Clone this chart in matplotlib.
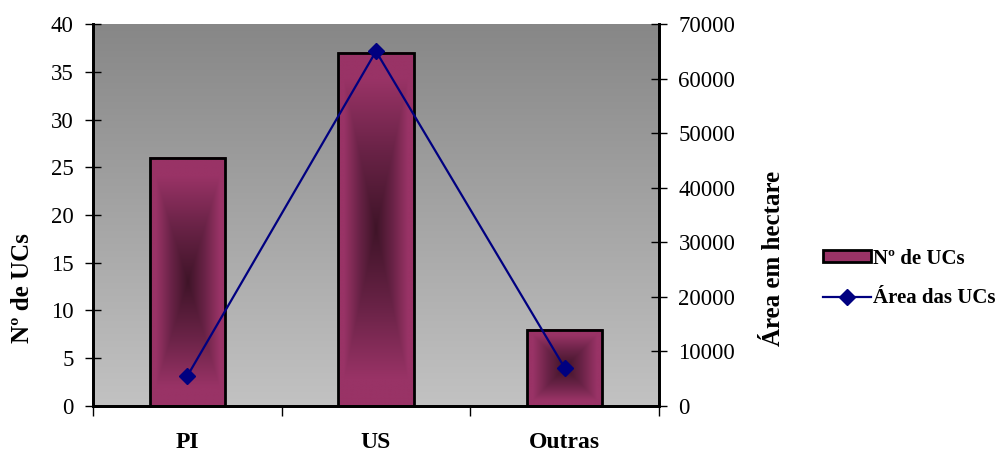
import numpy as np
import matplotlib
matplotlib.use("Agg")
from matplotlib import pyplot as plt
from matplotlib.patches import Rectangle
from matplotlib.lines import Line2D

plt.rcParams['font.family'] = ['Liberation Serif', 'DejaVu Serif']

# dados
categorias = ['PI', 'US', 'Outras']
num_ucs = [26, 37, 8]
area_ucs = [5500, 65000, 7000]

fig = plt.figure(figsize=(9.96, 4.53), dpi=100)
ax = fig.add_axes([0.0934, 0.1038, 0.5682, 0.8432])
ax2 = ax.twinx()

x = np.arange(len(categorias))
larg = 0.4

# fundo em degrade cinza
fundo = np.linspace(0, 1, 256).reshape(-1, 1)
cmap_fundo = matplotlib.colors.LinearSegmentedColormap.from_list('f', ['#c2c2c2', '#878787'])
ax.imshow(fundo, extent=(-0.5, 2.5, 0, 40), origin='lower', aspect='auto', cmap=cmap_fundo, zorder=0)

# barras com degrade a partir do centro
cmap_barra = matplotlib.colors.LinearSegmentedColormap.from_list(
    'b', [(0, '#3f1428'), (0.45, '#6a2347'), (0.85, '#993366'), (1, '#993366')])
nx, ny = 80, 300
gx, gy = np.meshgrid(np.linspace(-1, 1, nx), np.linspace(-1, 1, ny))
dist = np.maximum(np.abs(gx), np.abs(gy))
for xi, v in zip(x, num_ucs):
    ax.imshow(dist, extent=(xi - larg / 2, xi + larg / 2, 0, v), origin='lower', aspect='auto',
              cmap=cmap_barra, vmin=0, vmax=1, zorder=2, interpolation='bilinear')
ax.bar(x, num_ucs, larg, facecolor='none', edgecolor='black', linewidth=2, zorder=3)
ax.set_xlim(-0.5, 2.5)
ax.set_ylim(0, 40)

ax2.plot(x, area_ucs, color='#000080', linewidth=1.6, marker='D', markersize=8, zorder=4)
ax2.set_ylim(0, 70000)
ax.set_zorder(1)
ax2.set_zorder(2)
ax2.patch.set_visible(False)

ax.set_yticks(range(0, 41, 5))
ax2.set_yticks(range(0, 70001, 10000))
ax.set_xticks([-0.5, 0.5, 1.5, 2.5])
ax.set_xticklabels([])
ax.set_xticks(x, minor=True)
ax.set_xticklabels(categorias, minor=True, fontsize=17, fontweight='bold')
ax.tick_params(axis='x', which='minor', length=0, pad=19)
ax.tick_params(axis='x', which='major', direction='out', length=7, width=1)
ax.tick_params(axis='y', direction='inout', length=12, width=1, labelsize=16.5, pad=8)
ax2.tick_params(axis='y', direction='inout', length=12, width=1, labelsize=16.5, pad=8)

for a in (ax, ax2):
    a.spines['top'].set_visible(False)
    a.spines['left'].set_linewidth(2)
    a.spines['right'].set_linewidth(2)
    a.spines['bottom'].set_linewidth(2)

ax.set_ylabel('Nº de UCs', fontsize=18, fontweight='bold')
ax.yaxis.set_label_coords(-0.104, 0.309)
ax2.set_ylabel('Área em hectare', fontsize=18, fontweight='bold')
ax2.yaxis.set_label_coords(1.182, 0.385)

h1 = Rectangle((0, 0), 1, 1, facecolor='#993366', edgecolor='black', linewidth=2)
h2 = Line2D([], [], color='#000080', linewidth=1.6, marker='D', markersize=8)
fig.legend([h1, h2], ['Nº de UCs', 'Área das UCs'], loc='center left',
           bbox_to_anchor=(0.818, 0.385), frameon=False, handlelength=2.3, handleheight=0.5,
           handletextpad=0.1, labelspacing=0.95, borderaxespad=0,
           prop={'size': 15, 'weight': 'bold'})

fig.savefig('out.png', dpi=100)
